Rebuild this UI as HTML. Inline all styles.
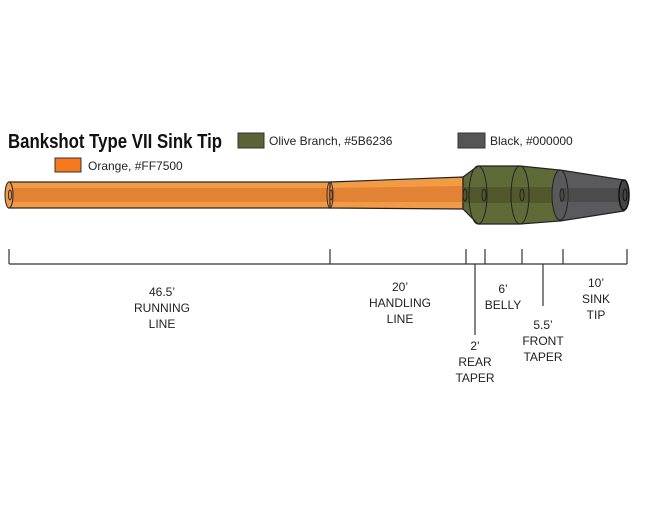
<!DOCTYPE html>
<html><head><style>
body{margin:0;background:#fff;width:650px;height:520px;overflow:hidden}
svg text{font-family:"Liberation Sans",sans-serif}
</style></head><body>
<svg width="650" height="520" viewBox="0 0 650 520" xmlns="http://www.w3.org/2000/svg">
<text x="8" y="148" font-size="20" font-weight="bold" fill="#111" textLength="214" lengthAdjust="spacingAndGlyphs">Bankshot Type VII Sink Tip</text>
<rect x="238" y="133" width="26" height="15" fill="#5B6236" stroke="#333" stroke-width="1"/>
<text x="269" y="145" font-size="12" fill="#222">Olive Branch, #5B6236</text>
<rect x="458" y="133" width="27" height="15" fill="#555" stroke="#333" stroke-width="1"/>
<text x="490" y="145" font-size="12" fill="#222">Black, #000000</text>
<rect x="55" y="158" width="26" height="14" fill="#F57A1E" stroke="#333" stroke-width="1"/>
<text x="88" y="170" font-size="12" fill="#222">Orange, #FF7500</text>

<rect x="9" y="182" width="322" height="26" fill="#F39A45" stroke="#222" stroke-width="1.2"/>
<rect x="9" y="188" width="322" height="14" fill="#D9782E" opacity="0.7"/>
<ellipse cx="9" cy="195" rx="4" ry="13" fill="#F39A45" stroke="#222"/>
<ellipse cx="10" cy="195" rx="1.5" ry="5" fill="none" stroke="#333"/>
<polygon points="330,182 463,177 463,209 330,208" fill="#F39A45" stroke="#222" stroke-width="1.2"/>
<polygon points="330,188 463,186 463,202 330,202" fill="#D9782E" opacity="0.7"/>
<ellipse cx="330" cy="195" rx="3" ry="13" fill="none" stroke="#333"/>
<ellipse cx="331" cy="195" rx="1.3" ry="5" fill="none" stroke="#333"/>
<polygon points="463,177 478,166 520,166 560,170 560,221 520,224 478,224 463,209" fill="#5F6A38" stroke="#222" stroke-width="1.2"/>
<rect x="463" y="187" width="97" height="16" fill="#4A5128" opacity="0.7"/>
<ellipse cx="478" cy="195" rx="9" ry="29" fill="none" stroke="#222"/>
<ellipse cx="520" cy="195" rx="9" ry="29" fill="none" stroke="#222"/>
<ellipse cx="465" cy="195" rx="2" ry="6" fill="none" stroke="#222"/>
<ellipse cx="484" cy="195" rx="2" ry="6" fill="none" stroke="#222"/>
<ellipse cx="522" cy="195" rx="2" ry="6" fill="none" stroke="#222"/>
<polygon points="560,170 624,180 624,211 560,221" fill="#5A5A5C" stroke="#222" stroke-width="1.2"/>
<rect x="560" y="188" width="64" height="14" fill="#444" opacity="0.7"/>
<ellipse cx="560" cy="195" rx="8" ry="25" fill="#5A5A5C" stroke="#222"/>
<rect x="560" y="188" width="8" height="14" fill="#444" opacity="0.7"/>
<ellipse cx="562" cy="195" rx="2" ry="6" fill="none" stroke="#222"/>
<ellipse cx="624" cy="195" rx="5" ry="15" fill="#444" stroke="#111" stroke-width="1.5"/>
<ellipse cx="625" cy="195" rx="2" ry="6" fill="none" stroke="#111"/>

<g stroke="#333" stroke-width="1.2">
<line x1="9" y1="264" x2="627" y2="264"/>
<line x1="9" y1="249" x2="9" y2="264"/>
<line x1="330" y1="249" x2="330" y2="264"/>
<line x1="466" y1="249" x2="466" y2="264"/>
<line x1="485" y1="249" x2="485" y2="264"/>
<line x1="522" y1="249" x2="522" y2="264"/>
<line x1="563" y1="249" x2="563" y2="264"/>
<line x1="627" y1="249" x2="627" y2="264"/>
<line x1="475" y1="264" x2="475" y2="335"/>
<line x1="543" y1="264" x2="543" y2="306"/>
</g>
<g font-size="12" fill="#222" text-anchor="middle">
<text x="162" y="296">46.5’</text><text x="162" y="312">RUNNING</text><text x="162" y="328">LINE</text>
<text x="400" y="291">20’</text><text x="400" y="307">HANDLING</text><text x="400" y="323">LINE</text>
<text x="475" y="350">2’</text><text x="475" y="366">REAR</text><text x="475" y="382">TAPER</text>
<text x="503" y="293">6’</text><text x="503" y="309">BELLY</text>
<text x="543" y="329">5.5’</text><text x="543" y="345">FRONT</text><text x="543" y="361">TAPER</text>
<text x="596" y="287">10’</text><text x="596" y="303">SINK</text><text x="596" y="319">TIP</text>
</g>
</svg>
</body></html>
